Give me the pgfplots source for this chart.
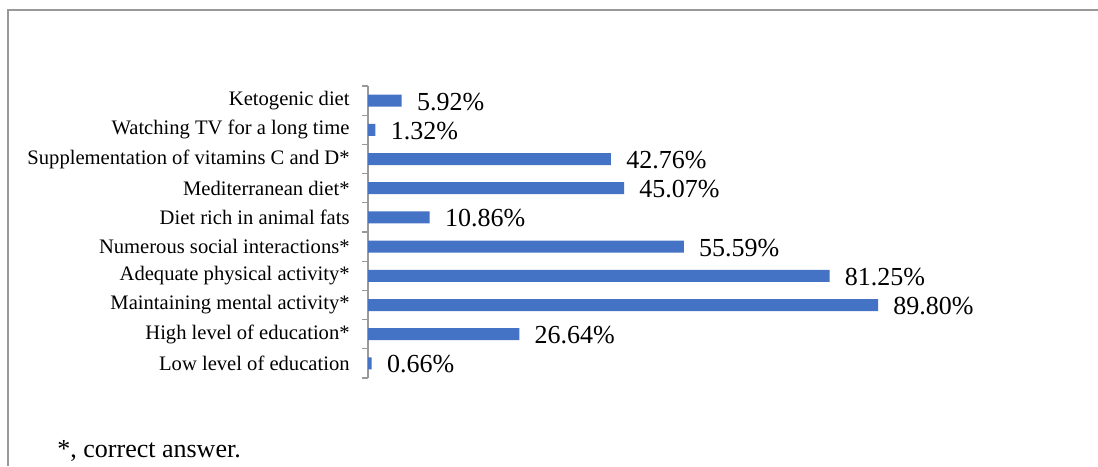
\documentclass[border=0pt]{standalone}
\usepackage{fontspec}
\setmainfont{Liberation Serif}
\usepackage{pgfplots}
\pgfplotsset{compat=1.18}
\definecolor{barblue}{HTML}{4472C4}
\definecolor{framegray}{HTML}{999999}
\begin{document}
\begin{tikzpicture}
\useasboundingbox (0,0) rectangle (549pt,233pt);
\draw[framegray, line width=0.75pt] (4pt,0) -- (4pt,228pt) -- (549pt,228pt);
\begin{axis}[
  at={(184pt,44pt)}, anchor=south west,
  width=284pt, height=146pt, scale only axis,
  xbar, bar width=6pt,
  xmin=0, xmax=100, ymin=-0.5, ymax=9.5,
  axis x line=none, axis y line*=left,
  y axis line style={framegray, -, line width=0.6pt},
  ytick={0,...,9},
  yticklabels={Low level of education, High level of education*, Maintaining mental activity*, Adequate physical activity*, Numerous social interactions*, Diet rich in animal fats, Mediterranean diet*, Supplementation of vitamins C and D*, Watching TV for a long time, Ketogenic diet},
  major tick length=0pt,
  minor ytick={-0.5,0.5,...,9.5},
  minor tick length=3pt, tick align=outside,
  minor tick style={framegray, line width=0.6pt},
  yticklabel style={font=\fontsize{10.3}{12}\selectfont, inner sep=0pt, xshift=-9pt, anchor=east},
  point meta=x,
  /pgf/number format/assume math mode=true,
  nodes near coords={\pgfmathprintnumber[fixed,fixed zerofill,precision=2]{\pgfplotspointmeta}\%},
  nodes near coords style={font=\fontsize{13}{15}\selectfont, anchor=west, inner sep=0pt, xshift=7.5pt, yshift=-0.5pt, text=black},
  clip=false,
]
\addplot[fill=barblue, draw=none] coordinates {
  (0.66,0) (26.64,1) (89.80,2) (81.25,3) (55.59,4)
  (10.86,5) (45.07,6) (42.76,7) (1.32,8) (5.92,9)
};
\end{axis}
\node[anchor=base west, inner sep=0pt, font=\fontsize{13}{15}\selectfont] at (28.5pt,4.5pt) {*, correct answer.};
\end{tikzpicture}
\end{document}
